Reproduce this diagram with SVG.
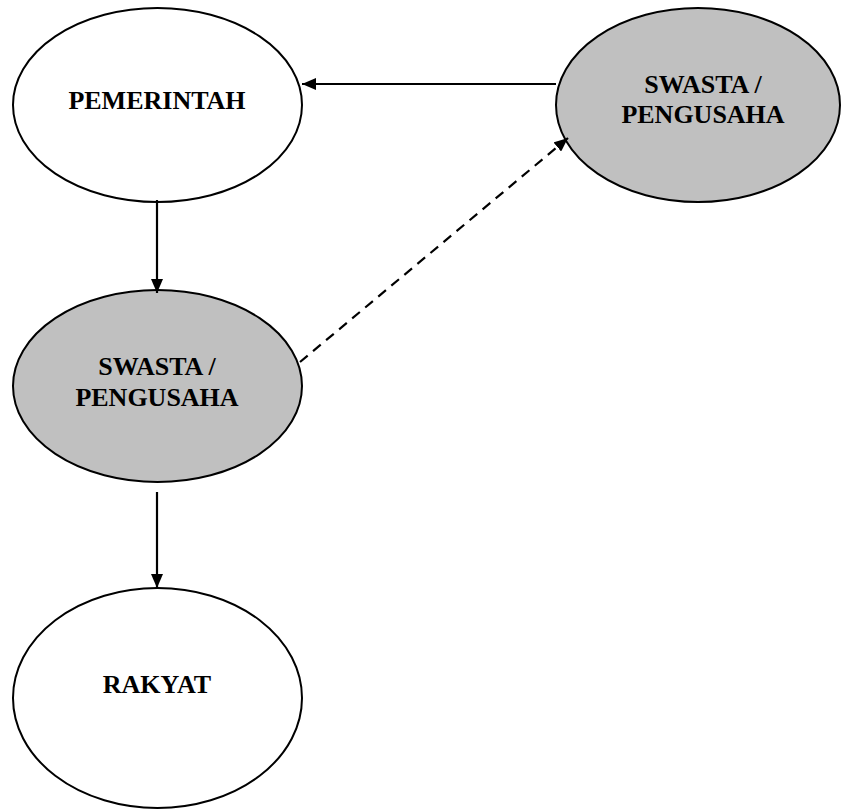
<svg xmlns="http://www.w3.org/2000/svg" width="841" height="810" viewBox="0 0 841 810">
<style>
.node ellipse{stroke:#000;stroke-width:2}
.white{fill:#fff}
.gray{fill:#c0c0c0}
text{font-family:"Liberation Serif","Times New Roman",serif;font-weight:bold;font-size:26px;fill:#000;text-anchor:middle}
.edge{stroke:#000;stroke-width:2.2;fill:none}
.dash{stroke-dasharray:10 7}
</style>
<defs>
<marker id="ah" viewBox="0 0 14 12" refX="14" refY="6" markerWidth="14" markerHeight="12" markerUnits="userSpaceOnUse" orient="auto">
<path d="M0,0 L14,6 L0,12 z" fill="#000"/>
</marker>
</defs>
<rect width="841" height="810" fill="#fff"/>
<g id="n-pemerintah" class="node">
<ellipse class="white" cx="157.5" cy="105" rx="144.5" ry="97"/>
<text x="157" y="109">PEMERINTAH</text>
</g>
<g id="n-swasta-right" class="node">
<ellipse class="gray" cx="698" cy="105" rx="142" ry="97"/>
<text x="703" y="93">SWASTA /</text>
<text x="703" y="123">PENGUSAHA</text>
</g>
<g id="n-swasta-left" class="node">
<ellipse class="gray" cx="157.5" cy="386" rx="144.5" ry="96"/>
<text x="157" y="375">SWASTA /</text>
<text x="157" y="406">PENGUSAHA</text>
</g>
<g id="n-rakyat" class="node">
<ellipse class="white" cx="157.5" cy="698" rx="144.5" ry="110"/>
<text x="157" y="693">RAKYAT</text>
</g>
<g id="edges">
<line class="edge" x1="556" y1="84" x2="302" y2="84" marker-end="url(#ah)"/>
<line class="edge" x1="157" y1="200" x2="157" y2="293" marker-end="url(#ah)"/>
<line class="edge" x1="157" y1="492" x2="157" y2="588" marker-end="url(#ah)"/>
<line class="edge dash" x1="300" y1="362" x2="568" y2="138" marker-end="url(#ah)"/>
</g>
</svg>
